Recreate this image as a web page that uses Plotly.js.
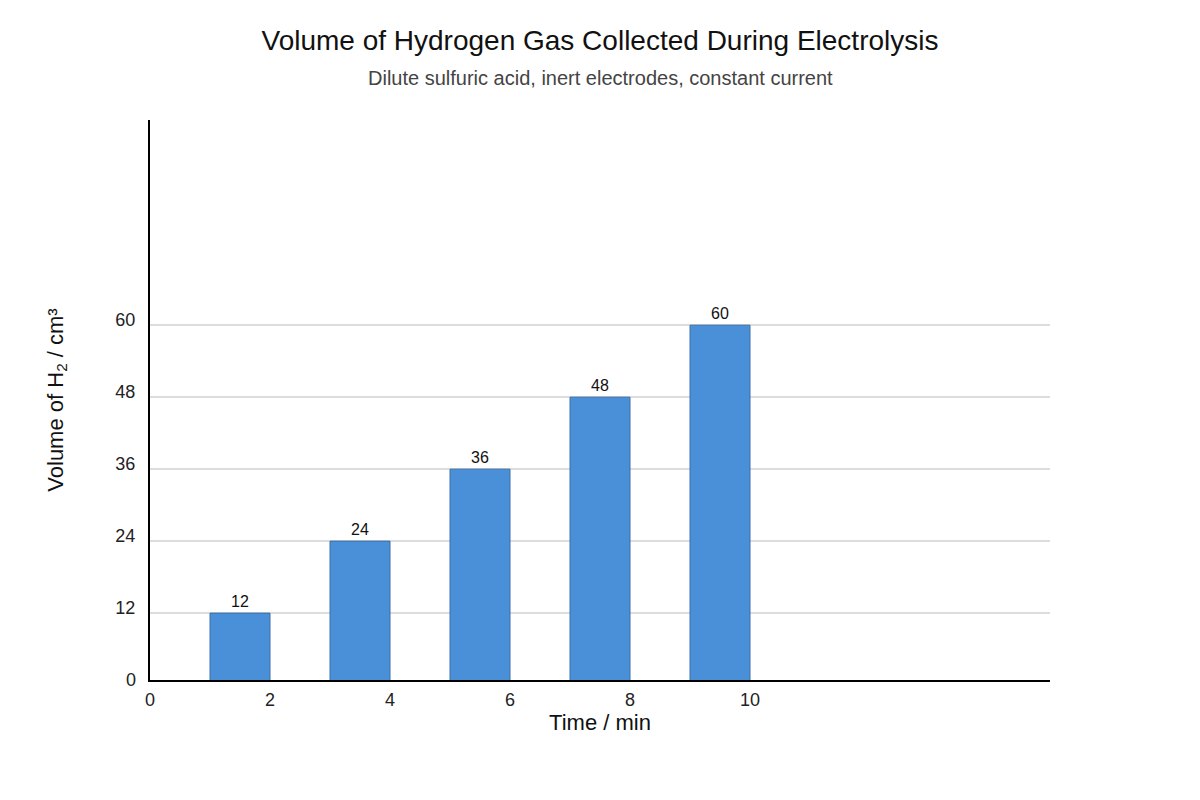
<!DOCTYPE html>
<html>
<head>
<meta charset="utf-8">
<script src="https://cdn.plot.ly/plotly-3.0.1.min.js"></script>
<style>
  html, body { margin: 0; padding: 0; background: #fff; }
  #plot { width: 1200px; height: 800px; }
</style>
</head>
<body>
<div id="plot"></div>
<script>
// time (min) and volume of H2 collected (cm3)
var times = [2, 4, 6, 8, 10];
var volumes = [12, 24, 36, 48, 60];
var xTicks = [0, 2, 4, 6, 8, 10];
var yTicks = [12, 24, 36, 48, 60];

var trace1 = {
  x: times,
  y: volumes,
  type: "bar",
  width: 1,
  offset: -1,
  marker: {
    color: "#4a90d9",
    line: { color: "#3b6ea8", width: 1 }
  },
  text: volumes.map(v => String(v)),
  textposition: "outside",
  textfont: { size: 16, color: "#111" },
  cliponaxis: false,
  hoverinfo: "x+y"
};

var layout = {
  width: 1200,
  height: 800,
  margin: { l: 150, r: 150, t: 120, b: 120 },
  paper_bgcolor: "#fff",
  plot_bgcolor: "#fff",
  font: { family: "Liberation Sans, Arial, sans-serif", color: "#111" },
  showlegend: false,
  title: {
    text: "Volume of Hydrogen Gas Collected During Electrolysis",
    font: { size: 28, color: "#111" },
    x: 0.5,
    xanchor: "center",
    y: 0.95,
    yanchor: "middle",
    yref: "container"
  },
  xaxis: {
    range: [0, 15],
    tickvals: xTicks,
    ticktext: xTicks.map(String),
    showgrid: false,
    zeroline: false,
    showline: true,
    linecolor: "#000",
    linewidth: 2,
    ticks: "",
    ticklabelstandoff: 2,
    tickfont: { size: 18, color: "#222" },
    title: { text: "Time / min", font: { size: 22, color: "#111" }, standoff: 4 }
  },
  yaxis: {
    range: [0.85, 94.2],
    tickvals: yTicks,
    ticktext: yTicks.map(String),
    ticklabelshift: -5,
    showgrid: true,
    gridcolor: "#dddddd",
    gridwidth: 1.5,
    zeroline: false,
    showline: true,
    linecolor: "#000",
    linewidth: 2,
    ticks: "",
    ticklabelstandoff: 9,
    tickfont: { size: 18, color: "#222" },
    title: { text: "Volume of H<sub>2</sub> / cm³", font: { size: 22, color: "#111" }, standoff: 46 }
  },
  annotations: [{
    text: "Dilute sulfuric acid, inert electrodes, constant current",
    xref: "paper",
    yref: "paper",
    x: 0.5,
    y: 1.075,
    xanchor: "center",
    yanchor: "middle",
    showarrow: false,
    font: { size: 20, color: "#444" }
  }, {
    text: "0",
    xref: "paper",
    yref: "paper",
    x: 0,
    y: 0,
    xanchor: "right",
    yanchor: "middle",
    xshift: -12,
    showarrow: false,
    font: { size: 18, color: "#222" }
  }]
};

Plotly.newPlot("plot", [trace1], layout, { displayModeBar: false, staticPlot: true });
</script>
</body>
</html>
